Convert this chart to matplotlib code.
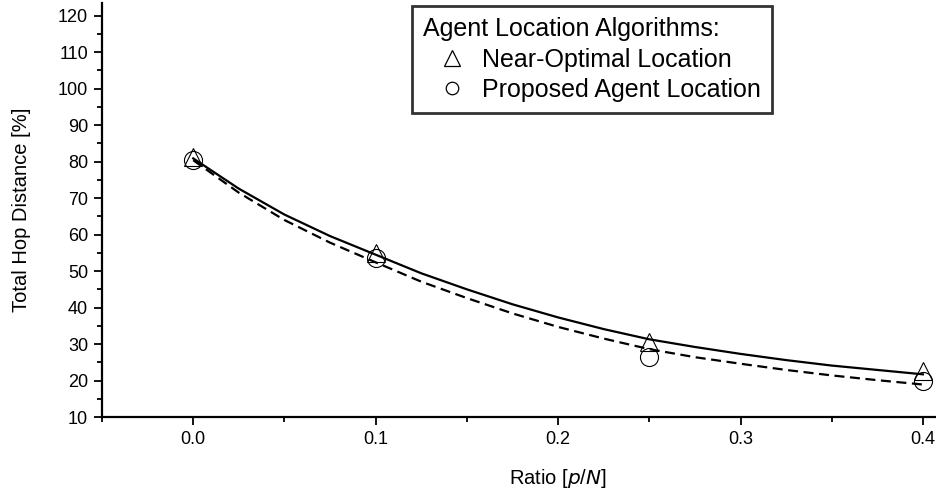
import matplotlib
matplotlib.use("Agg")
import matplotlib.pyplot as plt
from matplotlib.lines import Line2D
from matplotlib.ticker import MultipleLocator

plt.rcParams['font.family'] = ['Liberation Sans', 'DejaVu Sans']

# Measured points
ratio_pts = [0.0, 0.1, 0.25, 0.4]
near_optimal = [81.2, 55.0, 30.6, 22.6]
proposed = [80.4, 53.5, 26.5, 19.9]

# Fitted curves
curve_x = [0.0, 0.025, 0.05, 0.075, 0.1, 0.125, 0.15, 0.175, 0.2, 0.225, 0.25,
           0.275, 0.3, 0.325, 0.35, 0.375, 0.4]
near_curve = [80.9, 72.6, 65.5, 59.6, 54.5, 49.4, 45.0, 40.9, 37.3, 34.1, 31.3,
              29.2, 27.3, 25.6, 24.1, 22.9, 21.7]
prop_curve = [80.4, 71.5, 64.0, 57.8, 52.4, 47.1, 42.6, 38.4, 34.7, 31.5, 28.6,
              26.4, 24.6, 22.9, 21.4, 20.1, 18.9]

xticks = [0.0, 0.1, 0.2, 0.3, 0.4]
yticks = list(range(10, 130, 10))

fig = plt.figure(figsize=(9.37, 4.91), dpi=100)
ax = fig.add_axes([102/937, 74/491, 835/937, 414/491])

ax.plot(curve_x, near_curve, color='black', lw=1.6, solid_joinstyle='round')
ax.plot(curve_x, prop_curve, color='black', lw=1.6, linestyle=(0, (4.5, 2.5)))
ax.plot(ratio_pts, near_optimal, linestyle='none', marker='^', ms=13,
        mfc='none', mec='black', mew=0.8)
ax.plot(ratio_pts, proposed, linestyle='none', marker='o', ms=13,
        mfc='none', mec='black', mew=0.8)

ax.set_xlim(-0.05, 0.4077)
ax.set_ylim(10, 123.5)
ax.set_xticks(xticks)
ax.set_xticklabels([f"{t:.1f}" for t in xticks])
ax.set_yticks(yticks)
ax.xaxis.set_minor_locator(MultipleLocator(0.05))
ax.yaxis.set_minor_locator(MultipleLocator(5))

for s in ['top', 'right']:
    ax.spines[s].set_visible(False)
for s in ['left', 'bottom']:
    ax.spines[s].set_linewidth(1.6)

ax.tick_params(which='major', direction='out', length=6, width=1.3,
               labelsize=13, pad=4)
ax.tick_params(which='minor', direction='out', length=3.5, width=1.3)

ax.set_xlabel(r"Ratio [$\it{p}$/$\it{N}$]", fontsize=14.5)
ax.xaxis.set_label_coords((558-102)/835, -0.121)
ax.set_ylabel("Total Hop Distance [%]", fontsize=14.5)
ax.yaxis.set_label_coords(-0.085, 0.5)

handles = [Line2D([], [], linestyle='none', marker='^', ms=11, mfc='none',
                  mec='black', mew=0.9),
           Line2D([], [], linestyle='none', marker='o', ms=9, mfc='none',
                  mec='black', mew=0.9)]
leg = ax.legend(handles, ["Near-Optimal Location", "Proposed Agent Location"],
                title="Agent Location Algorithms:", loc='upper left',
                bbox_to_anchor=((412-102)/835, 1.0 - 3/414),
                fontsize=18, title_fontsize=18, frameon=True,
                fancybox=False, edgecolor='black', handletextpad=0.05,
                borderpad=0.45, labelspacing=0.25, handlelength=2.3,
                borderaxespad=0)
leg._legend_box.align = 'left'
leg.get_frame().set_linewidth(2.0)

fig.savefig("out.png", dpi=100)
